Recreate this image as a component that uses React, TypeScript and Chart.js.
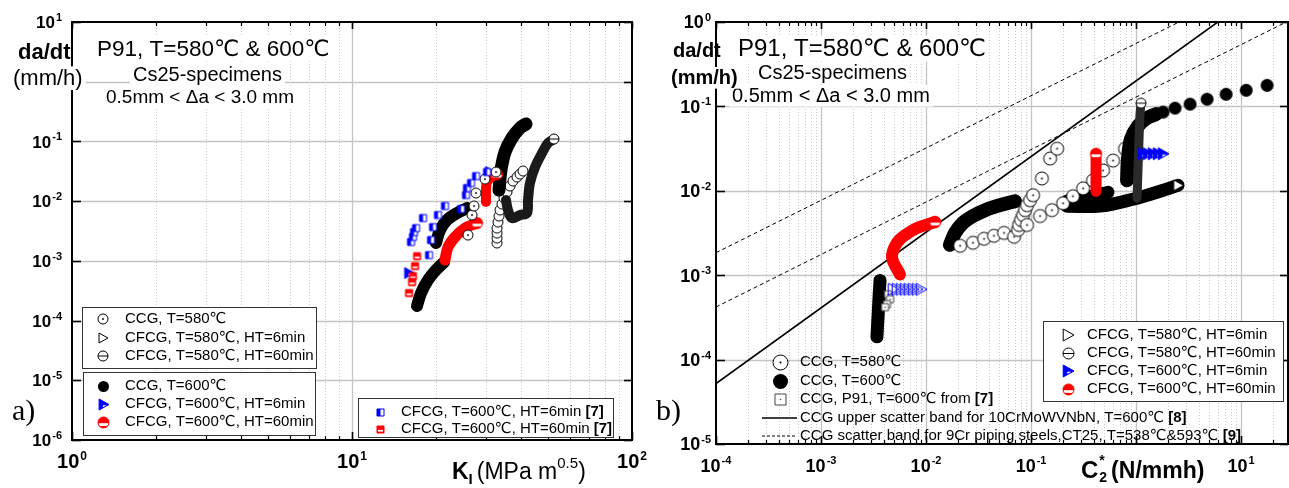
import React, { useEffect, useRef } from 'react';
import { Chart, registerables } from 'chart.js';

Chart.register(...registerables);

type Pt = [number, number];

// ================= LEFT PANEL: da/dt vs K_I =================
const leftXRange: Pt = [1, 100];
const leftYRange: Pt = [1e-6, 10];
const leftXTicks = [1, 10, 100];
const leftYTicks = [1e-6, 1e-5, 1e-4, 1e-3, 1e-2, 1e-1, 1, 10];
const leftYTickShown = [true, true, true, true, true, true, false, true];

const L_ccg600_a: Pt[] = [[17.07, 1.75e-4], [17.64, 2.89e-4], [18.68, 4.77e-4], [19.95, 7.0e-4], [21.31, 9.5e-4]];
const L_ccg600_b: Pt[] = [[19.95, 1.99e-3], [20.62, 3.28e-3], [21.84, 4.82e-3], [23.71, 6.32e-3], [25.74, 7.66e-3]];
const L_ccg600_c: Pt[] = [[33.5, 0.0153], [34.05, 0.0332], [35.19, 0.0664], [37.27, 0.114], [39.81, 0.168], [41.83, 0.196]];
const L_cfcg580ht60: Pt[] = [[35.48, 0.0104], [36.06, 0.0071], [37.27, 0.0052], [39.81, 0.00585], [42.17, 0.00632], [42.52, 0.0104], [43.22, 0.0201], [45.05, 0.0372], [47.71, 0.0639], [50.12, 0.094], [52.65, 0.1096]];
const L_ccg580_dense: Pt[] = [[32.96, 1.99e-3], [32.96, 2.41e-3], [32.96, 2.92e-3], [32.96, 3.54e-3], [33.22, 4.47e-3], [33.5, 5.63e-3], [33.77, 7.1e-3], [34.33, 8.93e-3], [34.91, 0.01127], [35.77, 0.0142], [36.66, 0.0179], [37.58, 0.0217], [38.84, 0.0253], [39.81, 0.0284], [40.8, 0.0319]];
const L_ccg580_sparse: Pt[] = [[25.95, 2.7e-3], [26.83, 5.85e-3], [27.28, 8.28e-3], [27.73, 0.01367], [29.85, 0.0234], [32.69, 0.0307]];
const L_cfcg600ht60_a: Pt[] = [[21.48, 1.03e-3], [22.02, 1.7e-3], [23.33, 2.51e-3], [25.33, 3.54e-3], [27.96, 4.3e-3]];
const L_cfcg600ht60_b: Pt[] = [[30.1, 9.66e-3], [30.1, 0.0153], [30.35, 0.0209], [31.89, 0.0263], [32.96, 0.0284]];
const L_ref7_ht6: Pt[] = [[16.24, 2.07e-3], [16.51, 2.51e-3], [16.65, 3.03e-3], [16.93, 3.54e-3], [17.93, 5.21e-3], [18.84, 1.25e-3], [19.15, 2.23e-3], [19.47, 3.68e-3], [20.28, 5.85e-3], [21.48, 8.28e-3], [24.51, 7.37e-3], [25.53, 0.01265], [25.74, 0.01656], [26.61, 0.0201], [27.73, 0.0263], [30.35, 0.0307]];
const L_ref7_ht60: Pt[] = [[17.07, 1.2e-3], [16.79, 8.18e-4], [16.51, 5.56e-4], [16.38, 4.41e-4], [15.98, 2.89e-4]];
const L_cfcg600ht6: Pt[] = [[15.98, 6.25e-4], [31.11, 0.0307]];

// ================= RIGHT PANEL: da/dt vs C*2 =================
const rightXRange: Pt = [1e-4, 28];
const rightYRange: Pt = [1e-5, 1];
const rightXTicks = [1e-4, 1e-3, 1e-2, 1e-1, 1, 10];
const rightXTickShown = [true, true, true, true, false, true];
const rightYTicks = [1e-5, 1e-4, 1e-3, 1e-2, 1e-1, 1];
const rightYTickShown = [true, true, true, true, true, true];

const R_upper10Cr: Pt[] = [[1e-4, 5.2e-5], [6, 1]];
const R_band9Cr_hi: Pt[] = [[1e-4, 1.85e-3], [2.57, 1]];
const R_band9Cr_lo: Pt[] = [[1e-4, 4.2e-4], [27, 1]];

const R_ccg600_a: Pt[] = [[3.65e-3, 8.68e-4], [3.57e-3, 5.48e-4], [3.49e-3, 3.19e-4], [3.41e-3, 1.86e-4]];
const R_ccg600_b: Pt[] = [[0.0169, 0.00229], [0.0189, 0.00317], [0.0225, 0.00416], [0.028, 0.00502], [0.0365, 0.0059], [0.0507, 0.00676], [0.0704, 0.00753]];
const R_ccg600_c: Pt[] = [[0.22, 0.00753], [0.293, 0.00817], [0.407, 0.00886], [0.541, 0.0096]];
const R_ccg600_d: Pt[] = [[0.821, 0.0133], [0.839, 0.0241], [0.896, 0.0413], [1.045, 0.0586], [1.273, 0.0728], [1.551, 0.0811]];
const R_ccg600_dots: Pt[] = [[1.81, 0.0856], [2.35, 0.0954], [3.27, 0.1063], [4.75, 0.1216], [7.2, 0.1392], [11.2, 0.1551], [17.7, 0.1775]];
const R_ccg580: Pt[] = [
  [0.0211, 0.00223], [0.028, 0.00242], [0.0357, 0.0027], [0.0444, 0.00293], [0.0553, 0.00317], [0.0689, 0.00285],
  [0.0752, 0.00344], [0.0769, 0.00394], [0.0803, 0.00452], [0.0839, 0.00516], [0.0877, 0.0059], [0.0916, 0.00676], [0.0978, 0.00774], [0.1045, 0.00886],
  [0.127, 0.014], [0.152, 0.0241], [0.177, 0.0315],
  [0.0916, 0.00394], [0.1219, 0.00502], [0.158, 0.0059], [0.202, 0.00713], [0.251, 0.00862], [0.313, 0.0107], [0.389, 0.01328], [0.485, 0.0174], [0.604, 0.0228], [0.786, 0.0315],
];
const R_cfcg580ht6: Pt[] = [[0.22, 0.00658], [0.454, 0.00658], [0.936, 0.00795], [1.693, 0.00987], [2.512, 0.0116]];
const R_cfcg580ht60: Pt[] = [[1.022, 0.00817], [1.045, 0.0184], [1.068, 0.0413], [1.092, 0.0811], [1.116, 0.1092]];
const R_cfcg600ht60_a: Pt[] = [[5.65e-3, 1.02e-3], [4.75e-3, 1.62e-3], [5.29e-3, 2.42e-3], [6.59e-3, 3.09e-3], [8.21e-3, 3.63e-3], [0.0122, 4.27e-3]];
const R_cfcg600ht60_b: Pt[] = [[0.416, 0.00987], [0.416, 0.016], [0.416, 0.0275]];
const R_cfcg600ht6_a: Pt[] = [[4.85e-3, 6.8e-4], [5.29e-3, 6.8e-4], [5.78e-3, 6.8e-4], [6.31e-3, 6.8e-4], [6.89e-3, 6.8e-4], [7.52e-3, 6.8e-4], [8.21e-3, 6.8e-4], [8.96e-3, 6.8e-4]];
const R_cfcg600ht6_b: Pt[] = [[1.166, 0.0275], [1.301, 0.0275], [1.452, 0.0275], [1.62, 0.0275], [1.807, 0.0275]];
const R_ref7_ccg: Pt[] = [[4.35e-3, 5.94e-4], [4.54e-3, 5.19e-4], [4.25e-3, 4.54e-4], [4.07e-3, 4.18e-4]];

// ================= helpers =================
const FONT = '"Liberation Sans", Arial, Helvetica, "DejaVu Sans", sans-serif';
const SERIF = '"Liberation Serif", "Times New Roman", serif';
const BLUE = '#0000ff';
const RED = '#ff0000';
const W = 1289;
const H = 488;

function mk(kind: string, d: number): HTMLCanvasElement {
  const P = 2;
  const S = Math.ceil(d + 2 * P);
  const c = document.createElement('canvas');
  c.width = S; c.height = S;
  const g = c.getContext('2d') as CanvasRenderingContext2D;
  const cx = S / 2, cy = S / 2, r = d / 2;
  g.lineWidth = 1;
  const circ = () => { g.beginPath(); g.arc(cx, cy, r, 0, Math.PI * 2); };
  const tri = () => { g.beginPath(); g.moveTo(cx - r * 0.8, cy - r); g.lineTo(cx + r, cy); g.lineTo(cx - r * 0.8, cy + r); g.closePath(); };
  const sq = () => { g.beginPath(); g.rect(cx - r, cy - r, d, d); };
  switch (kind) {
    case 'ringDot':
      circ(); g.fillStyle = '#fff'; g.fill(); g.strokeStyle = '#000'; g.stroke();
      g.beginPath(); g.arc(cx, cy, Math.max(0.9, r * 0.14), 0, Math.PI * 2); g.fillStyle = '#000'; g.fill();
      break;
    case 'ring':
      circ(); g.fillStyle = '#fff'; g.fill(); g.strokeStyle = '#000'; g.stroke();
      break;
    case 'ringBar':
      circ(); g.fillStyle = '#fff'; g.fill(); g.strokeStyle = '#000'; g.stroke();
      g.beginPath(); g.moveTo(cx - r, cy); g.lineTo(cx + r, cy); g.stroke();
      break;
    case 'dot':
      circ(); g.fillStyle = '#000'; g.fill();
      break;
    case 'triOpen':
      tri(); g.fillStyle = '#fff'; g.fill(); g.strokeStyle = '#000'; g.stroke();
      break;
    case 'triBlue':
      tri(); g.fillStyle = BLUE; g.fill(); g.strokeStyle = BLUE; g.stroke();
      g.beginPath(); g.moveTo(cx - r * 0.1, cy + r * 0.12); g.lineTo(cx + r * 0.55, cy + r * 0.12); g.lineTo(cx - r * 0.1, cy + r * 0.5); g.closePath();
      g.fillStyle = '#fff'; g.fill();
      break;
    case 'triBlueOpen':
      tri(); g.strokeStyle = BLUE; g.stroke();
      break;
    case 'redHalf':
      circ(); g.fillStyle = RED; g.fill();
      g.save(); circ(); g.clip(); g.fillStyle = '#fff'; g.fillRect(cx - r, cy + r * 0.12, d, r * 0.5); g.restore();
      circ(); g.strokeStyle = RED; g.stroke();
      break;
    case 'sqBlue':
      sq(); g.fillStyle = '#fff'; g.fill();
      g.fillStyle = BLUE; g.fillRect(cx - r, cy - r, d * 0.5, d);
      sq(); g.strokeStyle = BLUE; g.stroke();
      break;
    case 'sqRed':
      sq(); g.fillStyle = RED; g.fill();
      g.fillStyle = '#fff'; g.fillRect(cx - r + 1, cy + r * 0.1, d - 2, r * 0.5);
      sq(); g.strokeStyle = RED; g.stroke();
      break;
    case 'sqDot':
      sq(); g.fillStyle = '#fff'; g.fill(); g.strokeStyle = '#444'; g.stroke();
      g.beginPath(); g.arc(cx, cy, 0.8, 0, Math.PI * 2); g.fillStyle = '#444'; g.fill();
      break;
  }
  return c;
}

const toXY = (a: Pt[]) => a.map(([x, y]) => ({ x, y }));

function band(data: Pt[], color: string, width: number, endImg?: HTMLCanvasElement, tension = 0.35) {
  const n = data.length;
  return {
    type: 'line', data: toXY(data), borderColor: color, borderWidth: width, tension,
    borderCapStyle: 'round', borderJoinStyle: 'round', fill: false,
    pointStyle: endImg || 'circle',
    pointRadius: (c: any) => (endImg && c.dataIndex === n - 1 ? 5 : 0),
    pointHoverRadius: 0,
  };
}
function pts(data: Pt[], img: HTMLCanvasElement) {
  return { type: 'scatter', data: toXY(data), pointStyle: img, pointRadius: 5, pointHoverRadius: 5, showLine: false };
}
function refLine(data: Pt[], dash: number[], width: number) {
  return { type: 'line', data: toXY(data), borderColor: '#000', borderWidth: width, borderDash: dash, pointRadius: 0, tension: 0, fill: false };
}
function ordered(list: any[]) {
  return list.map((d, i) => ({ ...d, order: list.length - i }));
}

function minorVals(min: number, max: number) {
  const out: number[] = [];
  for (let e = Math.floor(Math.log10(min)); e <= Math.ceil(Math.log10(max)); e++) {
    for (let m = 2; m <= 9; m++) {
      const v = m * Math.pow(10, e);
      if (v > min * 1.0001 && v < max * 0.9999) out.push(v);
    }
  }
  return out;
}

function drawPow(ctx: CanvasRenderingContext2D, x: number, y: number, exp: string, size: number, align: string) {
  ctx.textAlign = 'left';
  ctx.textBaseline = 'alphabetic';
  ctx.fillStyle = '#000';
  const bf = `bold ${size}px ${FONT}`;
  const sf = `bold ${Math.round(size * 0.62)}px ${FONT}`;
  ctx.font = bf; const w1 = ctx.measureText('10').width;
  ctx.font = sf; const w2 = ctx.measureText(exp).width;
  const tot = w1 + w2 + 1;
  const x0 = align === 'center' ? x - tot / 2 : x - tot;
  ctx.font = bf; ctx.fillText('10', x0, y);
  ctx.font = sf; ctx.fillText(exp, x0 + w1 + 1, y - size * 0.42);
}

function textBox(ctx: CanvasRenderingContext2D, t: string, x: number, y: number, size: number, bold = false, bg = true) {
  ctx.font = `${bold ? 'bold ' : ''}${size}px ${FONT}`;
  ctx.textAlign = 'left';
  ctx.textBaseline = 'alphabetic';
  const w = ctx.measureText(t).width;
  if (bg) { ctx.fillStyle = '#fff'; ctx.fillRect(x - 3, y - size * 0.85, w + 6, size * 1.08); }
  ctx.fillStyle = '#000';
  ctx.fillText(t, x, y);
}

function legendRow(ctx: CanvasRenderingContext2D, img: HTMLCanvasElement | null, mx: number, y: number, parts: [string, boolean][], tx: number, size: number) {
  if (img) ctx.drawImage(img, Math.round(mx - img.width / 2), Math.round(y - img.height / 2));
  ctx.textAlign = 'left';
  ctx.textBaseline = 'middle';
  ctx.fillStyle = '#000';
  let x = tx;
  for (const [t, b] of parts) {
    ctx.font = `${b ? 'bold ' : ''}${size}px ${FONT}`;
    ctx.fillText(t, x, y);
    x += ctx.measureText(t).width;
  }
}

function boxRect(ctx: CanvasRenderingContext2D, x0: number, y0: number, x1: number, y1: number, stroke = true) {
  ctx.fillStyle = '#fff';
  ctx.fillRect(x0, y0, x1 - x0, y1 - y0);
  if (stroke) {
    ctx.strokeStyle = '#333'; ctx.lineWidth = 1; ctx.setLineDash([]);
    ctx.strokeRect(x0 + 0.5, y0 + 0.5, x1 - x0, y1 - y0);
  }
}

interface PanelCfg {
  xTicks: number[]; xShown: boolean[]; yTicks: number[]; yShown: boolean[];
  xLabelSize: number; yLabelSize: number; yGap: number; xLabelY: number; paintBg: boolean;
  extra: (ctx: CanvasRenderingContext2D) => void;
}

function decor(cfg: PanelCfg) {
  return {
    id: 'decor',
    beforeDraw(chart: any) {
      if (!cfg.paintBg) return;
      const ctx = chart.ctx;
      ctx.save(); ctx.fillStyle = '#fff'; ctx.fillRect(0, 0, chart.width, chart.height); ctx.restore();
    },
    beforeDatasetsDraw(chart: any) {
      const { ctx, chartArea: a, scales } = chart;
      const xs = scales.x, ys = scales.y;
      ctx.save();
      ctx.strokeStyle = '#c8c8c8';
      ctx.lineWidth = 1;
      ctx.setLineDash([1, 2]);
      for (const v of minorVals(xs.min, xs.max)) {
        const p = Math.round(xs.getPixelForValue(v)) + 0.5;
        ctx.beginPath(); ctx.moveTo(p, a.top); ctx.lineTo(p, a.bottom); ctx.stroke();
      }
      ctx.setLineDash([]);
      ctx.strokeStyle = '#c4c4c4';
      ctx.lineWidth = 1.3;
      for (const v of cfg.xTicks) {
        const p = Math.round(xs.getPixelForValue(v)) + 0.5;
        if (p <= a.left + 1 || p >= a.right - 1) continue;
        ctx.beginPath(); ctx.moveTo(p, a.top); ctx.lineTo(p, a.bottom); ctx.stroke();
      }
      for (const v of cfg.yTicks) {
        const p = Math.round(ys.getPixelForValue(v)) + 0.5;
        if (p <= a.top + 1 || p >= a.bottom - 1) continue;
        ctx.beginPath(); ctx.moveTo(a.left, p); ctx.lineTo(a.right, p); ctx.stroke();
      }
      ctx.restore();
    },
    afterDatasetsDraw(chart: any) {
      const { ctx, chartArea: a, scales } = chart;
      const xs = scales.x, ys = scales.y;
      ctx.save();
      ctx.strokeStyle = '#000';
      ctx.setLineDash([]);
      ctx.lineWidth = 1.2;
      for (const v of minorVals(xs.min, xs.max)) {
        const p = Math.round(xs.getPixelForValue(v)) + 0.5;
        ctx.beginPath(); ctx.moveTo(p, a.bottom); ctx.lineTo(p, a.bottom - 4); ctx.stroke();
        ctx.beginPath(); ctx.moveTo(p, a.top); ctx.lineTo(p, a.top + 4); ctx.stroke();
      }
      ctx.lineWidth = 1.6;
      for (const v of cfg.xTicks) {
        const p = Math.round(xs.getPixelForValue(v)) + 0.5;
        ctx.beginPath(); ctx.moveTo(p, a.bottom); ctx.lineTo(p, a.bottom - 8); ctx.stroke();
        ctx.beginPath(); ctx.moveTo(p, a.top); ctx.lineTo(p, a.top + 7); ctx.stroke();
      }
      for (const v of cfg.yTicks) {
        const p = Math.round(ys.getPixelForValue(v)) + 0.5;
        ctx.beginPath(); ctx.moveTo(a.left, p); ctx.lineTo(a.left + 9, p); ctx.stroke();
        ctx.beginPath(); ctx.moveTo(a.right, p); ctx.lineTo(a.right - 8, p); ctx.stroke();
      }
      ctx.lineWidth = 2;
      ctx.strokeRect(a.left, a.top, a.right - a.left, a.bottom - a.top);
      cfg.xTicks.forEach((v, i) => {
        if (!cfg.xShown[i]) return;
        const p = xs.getPixelForValue(v);
        drawPow(ctx, p, cfg.xLabelY, String(Math.round(Math.log10(v))), cfg.xLabelSize, 'center');
      });
      cfg.yTicks.forEach((v, i) => {
        if (!cfg.yShown[i]) return;
        const p = ys.getPixelForValue(v);
        drawPow(ctx, a.left - cfg.yGap, p + cfg.yLabelSize * 0.36, String(Math.round(Math.log10(v))), cfg.yLabelSize, 'right');
      });
      cfg.extra(ctx);
      ctx.restore();
    },
  };
}

function baseOptions(xr: Pt, yr: Pt, padding: any) {
  return {
    responsive: false,
    maintainAspectRatio: false,
    animation: false,
    events: [],
    devicePixelRatio: 1,
    layout: { padding, autoPadding: false },
    plugins: { legend: { display: false }, tooltip: { enabled: false } },
    scales: {
      x: { type: 'logarithmic', min: xr[0], max: xr[1], display: false },
      y: { type: 'logarithmic', min: yr[0], max: yr[1], display: false },
    },
  };
}

export default function App() {
  const leftRef = useRef<HTMLCanvasElement>(null);
  const rightRef = useRef<HTMLCanvasElement>(null);

  useEffect(() => {
    document.body.style.margin = '0';
    document.documentElement.style.overflow = 'hidden';
    const mL = {
      ringDot: mk('ringDot', 10), ring: mk('ring', 10), ringBar: mk('ringBar', 10), dot: mk('dot', 11),
      triOpen: mk('triOpen', 10), triBlue: mk('triBlue', 11), redHalf: mk('redHalf', 11),
      sqBlue: mk('sqBlue', 7), sqRed: mk('sqRed', 7),
    };
    const mR = {
      ringDot: mk('ringDot', 13), ringBar: mk('ringBar', 10), dot: mk('dot', 13), triOpen: mk('triOpen', 11),
      triBlue: mk('triBlue', 12), triBlueOpen: mk('triBlueOpen', 12), redHalf: mk('redHalf', 11), sqDot: mk('sqDot', 7),
      ringDotLeg: mk('ringDot', 15), dotLeg: mk('dot', 15), sqDotLeg: mk('sqDot', 11), ringBarLeg: mk('ringBar', 11),
      triOpenLeg: mk('triOpen', 12), triBlueLeg: mk('triBlue', 12), redHalfLeg: mk('redHalf', 11),
    };

    // ---------- left ----------
    const leftDs = ordered([
      band(L_ccg600_a, '#000', 12),
      band(L_ccg600_b, '#000', 12),
      band(L_cfcg600ht60_a, RED, 11, mL.redHalf),
      pts(L_ccg580_dense, mL.ring),
      band(L_cfcg580ht60, '#1a1a1a', 10, mL.ringBar),
      band(L_ccg600_c, '#000', 13),
      pts(L_cfcg600ht6, mL.triBlue),
      band(L_cfcg600ht60_b, RED, 10, mL.redHalf),
      pts(L_ccg580_sparse, mL.ringDot),
      pts(L_ref7_ht6, mL.sqBlue),
      pts(L_ref7_ht60, mL.sqRed),
    ]);

    const leftExtra = (ctx: CanvasRenderingContext2D) => {
      textBox(ctx, 'P91, T=580\u2103 & 600\u2103', 97, 56, 22.5);
      textBox(ctx, 'Cs25-specimens', 133, 81, 20);
      textBox(ctx, '0.5mm < \u0394a < 3.0 mm', 106, 103, 19);
      textBox(ctx, 'da/dt', 18, 59, 22, true, false);
      textBox(ctx, '(mm/h)', 13, 85, 22);
      ctx.fillStyle = '#000'; ctx.textBaseline = 'alphabetic'; ctx.textAlign = 'left';
      let x = 452; const by = 479;
      ctx.font = `bold 23px ${FONT}`; ctx.fillText('K', x, by); x += ctx.measureText('K').width;
      ctx.font = `bold 15px ${FONT}`; ctx.fillText('I', x, by + 5); x += ctx.measureText('I').width + 4;
      ctx.font = `23px ${FONT}`; ctx.fillText('(MPa m', x, by); x += ctx.measureText('(MPa m').width;
      ctx.font = `15px ${FONT}`; ctx.fillText('0.5', x, by - 11); x += ctx.measureText('0.5').width;
      ctx.font = `23px ${FONT}`; ctx.fillText(')', x, by);
      ctx.font = `30px ${SERIF}`; ctx.fillText('a)', 12, 420);
      boxRect(ctx, 82, 307, 316, 368);
      legendRow(ctx, mL.ringDot, 103, 319, [['CCG, T=580\u2103', false]], 125, 15);
      legendRow(ctx, mL.triOpen, 103, 338, [['CFCG, T=580\u2103, HT=6min', false]], 125, 15);
      legendRow(ctx, mL.ringBar, 103, 356, [['CFCG, T=580\u2103, HT=60min', false]], 125, 15);
      boxRect(ctx, 83, 372, 315, 435);
      legendRow(ctx, mL.dot, 103, 386, [['CCG, T=600\u2103', false]], 125, 15);
      legendRow(ctx, mL.triBlue, 103, 404, [['CFCG, T=600\u2103, HT=6min', false]], 125, 15);
      legendRow(ctx, mL.redHalf, 103, 422, [['CFCG, T=600\u2103, HT=60min', false]], 125, 15);
      boxRect(ctx, 358, 398, 613, 437);
      legendRow(ctx, mL.sqBlue, 380, 412, [['CFCG, T=600\u2103, HT=6min ', false], ['[7]', true]], 401, 15);
      legendRow(ctx, mL.sqRed, 380, 429, [['CFCG, T=600\u2103, HT=60min ', false], ['[7]', true]], 401, 15);
    };

    const leftCfg: any = {
      type: 'scatter',
      data: { datasets: leftDs },
      options: baseOptions(leftXRange, leftYRange, { left: 72, right: W - 632, top: 22, bottom: H - 440 }),
      plugins: [decor({
        xTicks: leftXTicks, xShown: leftXTicks.map(() => true), yTicks: leftYTicks, yShown: leftYTickShown,
        xLabelSize: 20, yLabelSize: 17, yGap: 10, xLabelY: 468, paintBg: true, extra: leftExtra,
      })],
    };

    // ---------- right ----------
    const rightDs = ordered([
      refLine(R_band9Cr_hi, [4, 3], 1),
      refLine(R_band9Cr_lo, [4, 3], 1),
      refLine(R_upper10Cr, [], 1.6),
      band(R_ccg600_a, '#000', 13),
      pts(R_ref7_ccg, mR.sqDot),
      pts(R_cfcg600ht6_a, mR.triBlueOpen),
      band(R_cfcg600ht60_a, RED, 12, mR.redHalf),
      band(R_ccg600_b, '#000', 14),
      band(R_cfcg580ht6, '#000', 13, mR.triOpen),
      band(R_ccg600_c, '#000', 13),
      pts(R_ccg580, mR.ringDot),
      band(R_cfcg600ht60_b, RED, 11, mR.redHalf),
      band(R_ccg600_d, '#000', 14),
      pts(R_ccg600_dots, mR.dot),
      band(R_cfcg580ht60, '#2a2a2a', 9, mR.ringBar),
      pts(R_cfcg600ht6_b, mR.triBlue),
    ]);

    const rightExtra = (ctx: CanvasRenderingContext2D) => {
      textBox(ctx, 'P91, T=580\u2103 & 600\u2103', 738, 56, 24);
      textBox(ctx, 'Cs25-specimens', 758, 79, 20);
      textBox(ctx, '0.5mm < \u0394a < 3.0 mm', 732, 102, 20);
      textBox(ctx, 'da/dt', 673, 57, 20, true, false);
      textBox(ctx, '(mm/h)', 671, 84, 20, true);
      ctx.fillStyle = '#000'; ctx.textBaseline = 'alphabetic'; ctx.textAlign = 'left';
      let x = 1081; const by = 478;
      ctx.font = `bold 24px ${FONT}`; ctx.fillText('C', x, by); x += ctx.measureText('C').width + 1;
      ctx.font = `bold 14px ${FONT}`; ctx.fillText('*', x, by - 13); ctx.fillText('2', x, by + 4);
      x += ctx.measureText('2').width + 4;
      ctx.font = `bold 23px ${FONT}`; ctx.fillText('(N/mmh)', x, by);
      ctx.font = `30px ${SERIF}`; ctx.fillText('b)', 656, 420);
      legendRow(ctx, mR.ringDotLeg, 780, 362, [['CCG, T=580\u2103', false]], 800, 15);
      legendRow(ctx, mR.dotLeg, 780, 381, [['CCG, T=600\u2103', false]], 800, 15);
      legendRow(ctx, mR.sqDotLeg, 780, 399, [['CCG, P91, T=600\u2103 from ', false], ['[7]', true]], 800, 15);
      ctx.strokeStyle = '#000'; ctx.lineWidth = 1.6; ctx.setLineDash([]);
      ctx.beginPath(); ctx.moveTo(762, 418); ctx.lineTo(797, 418); ctx.stroke();
      legendRow(ctx, null, 0, 418, [['CCG upper scatter band for 10CrMoWVNbN, T=600\u2103 ', false], ['[8]', true]], 800, 15);
      ctx.strokeStyle = '#000'; ctx.lineWidth = 1; ctx.setLineDash([3, 2]);
      ctx.beginPath(); ctx.moveTo(762, 436); ctx.lineTo(797, 436); ctx.stroke();
      ctx.setLineDash([]);
      legendRow(ctx, null, 0, 436, [['CCG scatter band for 9Cr piping steels,CT25, T=538\u2103&593\u2103 ', false], ['[9]', true]], 800, 15);
      boxRect(ctx, 1043, 321, 1283, 401);
      legendRow(ctx, mR.triOpenLeg, 1068, 335, [['CFCG, T=580\u2103, HT=6min', false]], 1087, 15);
      legendRow(ctx, mR.ringBarLeg, 1068, 353, [['CFCG, T=580\u2103, HT=60min', false]], 1087, 15);
      legendRow(ctx, mR.triBlueLeg, 1068, 371, [['CFCG, T=600\u2103, HT=6min', false]], 1087, 15);
      legendRow(ctx, mR.redHalfLeg, 1068, 389, [['CFCG, T=600\u2103, HT=60min', false]], 1087, 15);
    };

    const rightCfg: any = {
      type: 'scatter',
      data: { datasets: rightDs },
      options: baseOptions(rightXRange, rightYRange, { left: 716, right: W - 1288, top: 22, bottom: H - 444 }),
      plugins: [decor({
        xTicks: rightXTicks, xShown: rightXTickShown, yTicks: rightYTicks, yShown: rightYTickShown,
        xLabelSize: 18, yLabelSize: 18, yGap: 5, xLabelY: 472, paintBg: false, extra: rightExtra,
      })],
    };

    const c1 = new Chart(leftRef.current as HTMLCanvasElement, leftCfg);
    const c2 = new Chart(rightRef.current as HTMLCanvasElement, rightCfg);
    return () => { c1.destroy(); c2.destroy(); };
  }, []);

  return (
    <div style={{ position: 'absolute', left: 0, top: 0, width: W, height: H, background: '#fff', overflow: 'hidden' }}>
      <canvas ref={leftRef} width={W} height={H} style={{ position: 'absolute', left: 0, top: 0, width: W, height: H }} />
      <canvas ref={rightRef} width={W} height={H} style={{ position: 'absolute', left: 0, top: 0, width: W, height: H }} />
    </div>
  );
}
